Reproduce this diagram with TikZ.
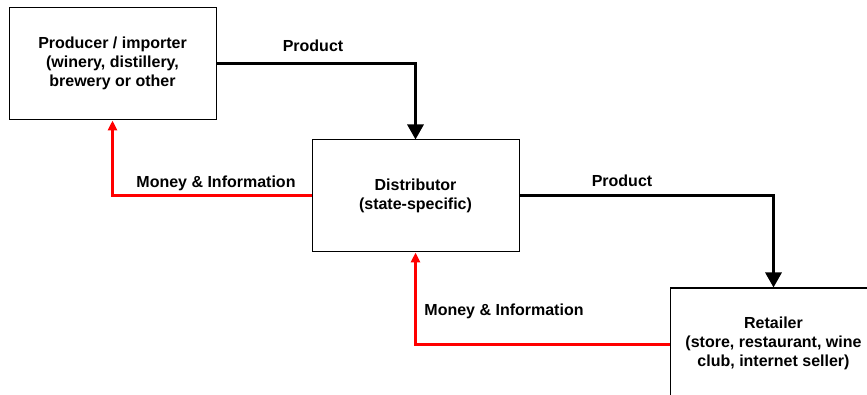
\documentclass[tikz,border=0pt]{standalone}
\usepackage{fontspec}
\setmainfont{Liberation Sans}
\usetikzlibrary{arrows.meta}
\newcommand{\bxtext}[1]{\raisebox{-3pt}{\begin{tabular}{@{}c@{}}#1\end{tabular}}}
\begin{document}
\begin{tikzpicture}[x=1pt,y=-1pt,
  box/.style={draw=black,line width=1pt,fill=white,minimum width=207pt,minimum height=112pt,
    align=center,font=\fontsize{16pt}{19pt}\selectfont\bfseries,inner sep=0pt},
  lbl/.style={font=\fontsize{16pt}{19pt}\selectfont\bfseries,anchor=base,inner sep=0pt},
  prod/.style={draw=black,line width=3pt,-{Triangle[width=16pt,length=15pt]}},
  money/.style={draw=red,line width=3pt,-{Triangle[width=9pt,length=10pt]}}]
\useasboundingbox (0,0) rectangle (867,395);
\clip (0,0) rectangle (867,395);
\node[box] (producer) at (112.5,64) {\bxtext{Producer / importer\\(winery, distillery,\\brewery or other}};
\node[box] (distributor) at (415.5,196) {\bxtext{Distributor\\(state-specific)}};
\node[box] (retailer) at (773.5,344) {\bxtext{Retailer\\(store, restaurant, wine\\club, internet seller)}};
\draw[prod] (producer.east) -| (distributor.north);
\draw[prod] (distributor.east) -| (retailer.north);
\draw[money] (distributor.west) -| (producer.south);
\draw[money] (retailer.west) -| (distributor.south);
\node[lbl] (l1) at (313,52) {Product};
\node[lbl] (l2) at (622,187) {Product};
\node[lbl] (l3) at (216,188) {Money \& Information};
\node[lbl] (l4) at (504,315) {Money \& Information};
\end{tikzpicture}
\end{document}
